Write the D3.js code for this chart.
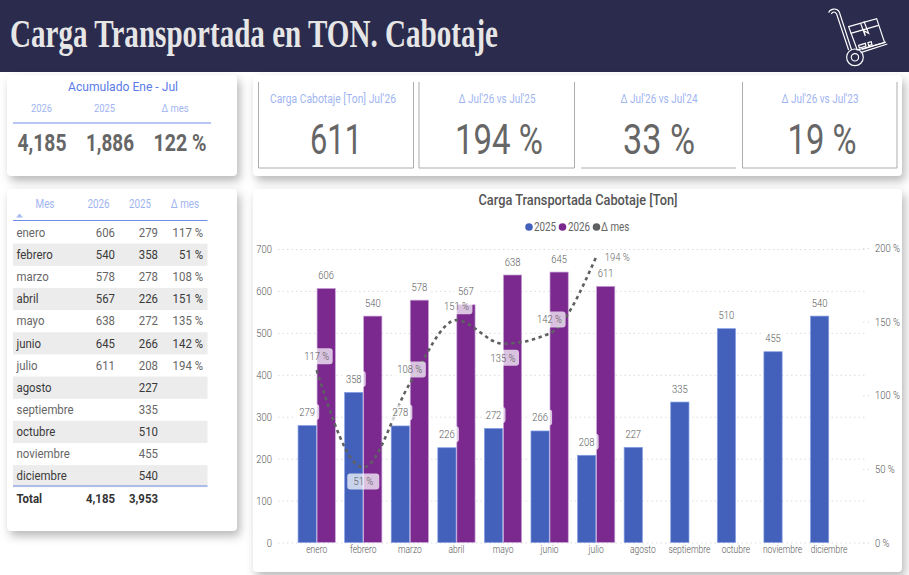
<!DOCTYPE html>
<html>
<head>
<meta charset="utf-8">
<script src="https://cdnjs.cloudflare.com/ajax/libs/d3/7.8.5/d3.min.js"></script>
<style>
  html, body { margin: 0; padding: 0; background: #fff; }
  svg { display: block; }
  .card { fill: #fff; filter: drop-shadow(3px 5px 5px rgba(0,0,0,.28)); }
  .axis path { display: none; }
  .axis text { font-family: Roboto, sans-serif; font-size: 11.5px; font-weight: 300; fill: #555; }
  .grid line { stroke: #dcdcdc; stroke-dasharray: 1.5 3; }
</style>
</head>
<body>
<div class="wave"></div>
<script>
var months = ['enero', 'febrero', 'marzo', 'abril', 'mayo', 'junio', 'julio', 'agosto', 'septiembre', 'octubre', 'noviembre', 'diciembre'];
var values2025 = [279, 358, 278, 226, 272, 266, 208, 227, 335, 510, 455, 540];
var values2026 = [606, 540, 578, 567, 638, 645, 611];
var deltaMes = [117, 51, 108, 151, 135, 142, 194];
var leftTicks = [0, 100, 200, 300, 400, 500, 600, 700];
var rightTicks = [0, 50, 100, 150, 200];
var seriesNames = ['2025', '2026'];

var kpiTitles = ["Carga Cabotaje [Ton] Jul'26", "Δ Jul'26 vs Jul'25", "Δ Jul'26 vs Jul'24", "Δ Jul'26 vs Jul'23"];
var kpiValues = ['611', '194 %', '33 %', '19 %'];
var ytdHeaders = ['2026', '2025', 'Δ mes'];
var ytdValues = ['4,185', '1,886', '122 %'];
var totals = ['4,185', '3,953'];

var w = 909
  , h = 575
  , navy = '#2b2b4d'
  , paleBlue = '#9fb5f2'
  , ruleBlue = '#6f8de6'
  , blue = '#4361ba'
  , purple = '#7b288f'
  , grey = '#666'
  , sans = 'Roboto, sans-serif'
  , squeeze = 0.82;

var svg = d3.select('.wave')
            .append('svg')
            .attr('width', w)
            .attr('height', h);

var condense = function (node, k) {
  d3.select(node)
    .attr('textLength', node.getComputedTextLength() * k)
    .attr('lengthAdjust', 'spacingAndGlyphs');
};

// most of the texts in the reference are a condensed DIN, no such font here
var label = function (parent, x, y, str, size, color, opts) {
  opts = opts || {};
  var t = parent.append('text')
      .attr('x', x)
      .attr('y', y)
      .attr('dy', '.35em')
      .attr('text-anchor', opts.anchor || 'middle')
      .attr('font-family', opts.font || sans)
      .attr('font-size', size)
      .attr('font-weight', opts.weight || 400)
      .attr('fill', color)
      .text(str);
  if (opts.fit) {
    t.attr('textLength', opts.fit).attr('lengthAdjust', 'spacingAndGlyphs');
  } else {
    condense(t.node(), opts.k || squeeze);
  }
  return t;
};

// Header
svg.append('rect').attr('width', w).attr('height', 72).attr('fill', navy);
label(svg, 10, 33, 'Carga Transportada en TON. Cabotaje', 40, '#e6e6e6', {
  anchor: 'start', font: "'Liberation Serif', serif", weight: 700, fit: 488
});

var icon = svg.append('g')
    .attr('transform', 'translate(450,0) scale(0.3333)')
    .attr('fill', 'none')
    .attr('stroke', '#fff')
    .attr('stroke-width', 3.5);
icon.append('path').attr('d', 'M1136 38 C1140 26 1160 22 1168 36 L1205 150');
icon.append('path').attr('d', 'M1144 42 C1148 34 1156 34 1160 42 L1196 150');
icon.append('circle').attr('cx', 1215).attr('cy', 172).attr('r', 25);
icon.append('circle').attr('cx', 1215).attr('cy', 172).attr('r', 11);
icon.append('path').attr('d', 'M1232 158 L1312 132 M1236 148 L1308 126');
icon.append('path').attr('d', 'M1196 80 L1280 56 L1304 128 L1222 150 Z');
icon.append('path').attr('d', 'M1202 100 L1286 76 M1232 70 L1246 108 L1242 92 L1256 100 L1242 64');
icon.append('path').attr('d', 'M1226 136 L1246 130 L1248 138 L1228 144 Z M1254 128 L1264 125 L1266 134 L1256 137 Z');

// Cards
[[7, 75, 230, 101], [253, 75, 649, 101], [7, 189, 230, 342], [253, 189, 649, 383]].forEach(function (c) {
  svg.append('rect')
      .attr('class', 'card')
      .attr('x', c[0]).attr('y', c[1])
      .attr('width', c[2]).attr('height', c[3])
      .attr('rx', 4);
});

// Acumulado card
label(svg, 123, 86, 'Acumulado Ene - Jul', 13, '#5b7be8', { fit: 110 });
[41.5, 104.5, 175].forEach(function (x, i) {
  label(svg, x, 108, ytdHeaders[i], 11.5, paleBlue);
});
svg.append('line').attr('x1', 13).attr('x2', 211).attr('y1', 123).attr('y2', 123).attr('stroke', ruleBlue);
[42, 110, 180].forEach(function (x, i) {
  label(svg, x, 143, ytdValues[i], 23, grey, { weight: 700, fit: [49, 48, 53][i] });
});

// KPI boxes
var kpiBoxes = [
  { l: 258.5, r: 413.5, sides: true, tx: 333, vx: 336, fit: 52, tfit: 126 },
  { l: 419, r: 574.5, sides: true, tx: 497, vx: 499, fit: 88, tfit: 77 },
  { l: 581, r: 736, sides: false, tx: 659, vx: 659, fit: 72, tfit: 77 },
  { l: 742.5, r: 897, sides: true, tx: 820, vx: 822, fit: 69, tfit: 77 }
];
kpiBoxes.forEach(function (b, i) {
  var d = b.sides
    ? 'M' + b.l + ' 82 V168 H' + b.r + ' V82'
    : 'M' + b.l + ' 168 H' + b.r;
  svg.append('path').attr('d', d).attr('fill', 'none').attr('stroke', '#adadad').attr('stroke-width', 1);
  label(svg, b.tx, 99, kpiTitles[i], 12.5, paleBlue, { fit: b.tfit });
  label(svg, b.vx, 139, kpiValues[i], 43, grey, { fit: b.fit });
});

// Table
var rowH = 22.15
  , rowTop = 221.5
  , tableK = 0.95;
label(svg, 45, 204, 'Mes', 12, paleBlue);
label(svg, 98.5, 204, '2026', 12, paleBlue);
label(svg, 140, 204, '2025', 12, paleBlue);
label(svg, 185, 204, 'Δ mes', 12, paleBlue);
svg.append('path').attr('d', 'M16 217.5 L19.5 213.5 L23 217.5 Z').attr('fill', '#a9bcf0');
svg.append('line').attr('x1', 13).attr('x2', 207.5).attr('y1', 220.5).attr('y2', 220.5).attr('stroke', ruleBlue);

months.forEach(function (m, i) {
  var y = rowTop + rowH * i;
  var cy = y + rowH / 2;
  var ink = i % 2 ? '#3a3a3a' : '#666';
  if (i % 2) {
    svg.append('rect').attr('x', 13).attr('y', y).attr('width', 194.5).attr('height', rowH).attr('fill', '#ececec');
  }
  label(svg, 16.5, cy, m, 12, ink, { anchor: 'start', k: tableK });
  if (values2026[i] !== undefined) {
    label(svg, 115, cy, values2026[i], 12, ink, { anchor: 'end', k: tableK });
    label(svg, 203, cy, deltaMes[i] + ' %', 12, ink, { anchor: 'end', k: tableK });
  }
  label(svg, 158, cy, values2025[i], 12, ink, { anchor: 'end', k: tableK });
});
svg.append('line').attr('x1', 13).attr('x2', 207.5).attr('y1', 486).attr('y2', 486).attr('stroke', ruleBlue);
label(svg, 16.5, 498.5, 'Total', 12, '#333', { anchor: 'start', weight: 700, k: tableK });
label(svg, 115, 498.5, totals[0], 12, '#333', { anchor: 'end', weight: 700, k: tableK });
label(svg, 158, 498.5, totals[1], 12, '#333', { anchor: 'end', weight: 700, k: tableK });

// Chart
var x0 = d3.scaleBand().domain(months).range([293.4, 852.4]).paddingInner(0.2).paddingOuter(0.1);
var x1 = d3.scaleBand().domain(seriesNames).range([0, x0.bandwidth()]).paddingInner(0.04);
var y = d3.scaleLinear().domain([0, 700]).range([542.5, 249]);
var yPct = d3.scaleLinear().domain([0, 200]).range([542.5, 248]);

label(svg, 578, 200, 'Carga Transportada Cabotaje [Ton]', 15.5, '#555', { weight: 500, fit: 199 });

var legendItems = [
  { dot: 529, tx: 534, str: '2025', color: blue },
  { dot: 562.5, tx: 568, str: '2026', color: purple },
  { dot: 596.5, tx: 601, str: 'Δ mes', color: '#5f6061' }
];
legendItems.forEach(function (d) {
  svg.append('circle').attr('cx', d.dot).attr('cy', 227).attr('r', 3.8).attr('fill', d.color);
  label(svg, d.tx, 227, d.str, 12, '#666', { anchor: 'start' });
});

// gridlines come from the left axis ticks
var leftAxis = svg.append('g')
    .attr('class', 'axis grid')
    .attr('transform', 'translate(278,0)')
    .call(d3.axisLeft(y).tickValues(leftTicks).tickSize(-587).tickPadding(6).tickFormat(d3.format('d')));

var rightAxis = svg.append('g')
    .attr('class', 'axis grid')
    .attr('transform', 'translate(863,0)')
    .call(d3.axisRight(yPct).tickValues(rightTicks).tickSize(6).tickPadding(6).tickFormat(function (d) { return d + ' %'; }));

var bottomAxis = svg.append('g')
    .attr('class', 'axis')
    .attr('transform', 'translate(0,542.5)')
    .call(d3.axisBottom(x0).tickSize(0).tickPadding(5));
bottomAxis.selectAll('text').attr('dy', '.55em').style('font-size', '10px');

[leftAxis, rightAxis].forEach(function (a) {
  a.selectAll('text').each(function () { condense(this, squeeze); });
});
// month names have to stay clear of each other
bottomAxis.selectAll('text').each(function () { condense(this, 0.85); });

svg.selectAll('rect.b25')
    .data(values2025)
    .enter()
    .append('rect')
    .attr('class', 'b25')
    .attr('x', function (d, i) { return x0(months[i]) + x1('2025'); })
    .attr('y', function (d) { return y(d); })
    .attr('width', x1.bandwidth())
    .attr('height', function (d) { return y(0) - y(d); })
    .attr('fill', blue)
    .attr('stroke', '#86a0e6')
    .attr('stroke-width', 0.7);

svg.selectAll('rect.b26')
    .data(values2026)
    .enter()
    .append('rect')
    .attr('class', 'b26')
    .attr('x', function (d, i) { return x0(months[i]) + x1('2026'); })
    .attr('y', function (d) { return y(d); })
    .attr('width', x1.bandwidth())
    .attr('height', function (d) { return y(0) - y(d); })
    .attr('fill', purple)
    .attr('stroke', '#c9a6d8')
    .attr('stroke-width', 0.7);

var pctLine = d3.line()
    .x(function (d, i) { return x0(months[i]) + x0.bandwidth() / 2; })
    .y(function (d) { return yPct(d); })
    .curve(d3.curveMonotoneX);

svg.append('path')
    .datum(deltaMes)
    .attr('d', pctLine)
    .attr('fill', 'none')
    .attr('stroke', '#5f6061')
    .attr('stroke-width', 2.6)
    .attr('stroke-dasharray', '3.5 3.5');

var pill = function (cx, cy, halfW) {
  svg.append('rect')
      .attr('x', cx - halfW).attr('y', cy - 8)
      .attr('width', halfW * 2).attr('height', 16)
      .attr('rx', 3)
      .attr('fill', '#fff')
      .attr('fill-opacity', 0.72);
};

// value labels sit 13.5px over the bar top
values2025.forEach(function (d, i) {
  var cx = x0(months[i]) + x1('2025') + x1.bandwidth() / 2;
  pill(cx, y(d) - 13.5, 12);
  label(svg, cx, y(d) - 13.5, d, 11.5, '#5a5a5a', { weight: 300 });
});
values2026.forEach(function (d, i) {
  var cx = x0(months[i]) + x1('2026') + x1.bandwidth() / 2;
  pill(cx, y(d) - 13.5, 12);
  label(svg, cx, y(d) - 13.5, d, 11.5, '#5a5a5a', { weight: 300 });
});

// percent labels: under the local minima, beside the last point, over the rest
deltaMes.forEach(function (d, i) {
  var cx = x0(months[i]) + x0.bandwidth() / 2
    , cy = yPct(d)
    , last = i === deltaMes.length - 1
    , isMin = !last && i > 0 && d < deltaMes[i - 1] && d < deltaMes[i + 1];
  if (last) {
    label(svg, cx + 21, cy, d + ' %', 11.5, '#666', { weight: 300 });
    return;
  }
  cy += isMin ? 14 : -14;
  pill(cx, cy, 16);
  label(svg, cx, cy, d + ' %', 11.5, '#5a5a5a', { weight: 300 });
});
</script>
</body>
</html>
